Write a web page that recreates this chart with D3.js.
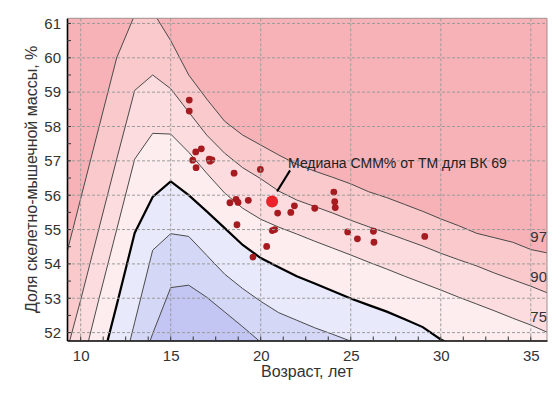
<!DOCTYPE html>
<html><head><meta charset="utf-8">
<script src="https://cdn.jsdelivr.net/npm/d3@7"></script>
<style>
html,body{margin:0;padding:0;background:#fff;}
text{font-family:"Liberation Sans",Arial,sans-serif;}
</style></head>
<body>
<svg id="chart" width="560" height="394"></svg>
<script>
// ---- data ----
const ages = [9,10,11,12,13,14,15,16,17,18,19,20,21,22,23,24,25,26,27,28,29,30,31,32,33,34,35,36];
const p97 = [53.85,55.9,57.95,60.0,61.25,61.35,60.5,59.5,58.8,58.15,57.75,57.46,57.17,56.9,56.7,56.52,56.33,56.1,55.93,55.73,55.53,55.31,55.11,54.89,54.76,54.63,54.42,54.31];
const p90 = [51.0,52.95,55.0,57.05,59.05,59.5,59.1,58.42,57.75,57.22,56.8,56.48,56.12,55.86,55.67,55.48,55.27,55.08,54.9,54.71,54.52,54.31,54.12,53.94,53.73,53.54,53.35,53.14];
const p75 = [null,50.85,52.95,55.0,57.05,57.8,57.78,57.25,56.64,56.06,55.62,55.3,55.07,54.87,54.66,54.46,54.26,54.05,53.85,53.64,53.44,53.24,53.03,52.83,52.63,52.42,52.22,51.99];
const p50 = [null,null,50.75,52.8,54.9,55.95,56.4,56.0,55.53,55.04,54.55,54.17,53.9,53.64,53.43,53.21,52.99,52.8,52.61,52.39,52.16,51.8,51.55,null,null,null,null,null];
const p25 = [null,null,null,50.2,52.3,54.4,54.88,54.8,54.25,53.7,53.28,52.91,52.58,52.36,52.14,51.95,51.75,51.55,null,null,null,null,null,null,null,null,null,null];
const p10 = [null,null,null,null,50.5,51.97,53.31,53.38,53.03,52.6,52.17,51.72,51.3,null,null,null,null,null,null,null,null,null,null,null,null,null,null,null];

const ptAge = [16.03,16.03,16.39,16.70,16.22,16.41,17.14,17.29,17.18,18.52,19.98,18.29,18.63,18.74,19.31,21.87,20.94,21.67,18.68,20.64,20.78,20.33,19.57,24.06,24.11,24.14,23.0,24.83,25.37,26.26,26.29,29.11];
const ptVal = [58.77,58.45,57.26,57.35,57.02,56.80,57.05,57.03,56.99,56.64,56.75,55.78,55.88,55.79,55.85,55.69,55.48,55.50,55.14,54.97,55.00,54.51,54.20,56.09,55.81,55.64,55.62,54.93,54.73,54.95,54.63,54.80];

const medianAge = 20.63, medianVal = 55.82;
const medianLabel = "Медиана СММ% от ТМ для ВК 69";

const xTicks = [10,15,20,25,30,35];
const yTicks = [52,53,54,55,56,57,58,59,60,61];
const curveLabels = ["97","90","75"];
const xTitle = "Возраст, лет";
const yTitle = "Доля скелетно-мышечной массы, %";

// ---- layout ----
const L = 67, R = 547, T = 18.3, B = 340.5;
const svg = d3.select("#chart");
const x = d3.scaleLinear().domain([9.24, 35.9]).range([L, R]);
const y = d3.scaleLinear().domain([51.77, 61.15]).range([B, T]);

svg.append("defs").append("clipPath").attr("id","clip")
  .append("rect").attr("x",L).attr("y",T).attr("width",R-L).attr("height",B-T);

const plot = svg.append("g").attr("clip-path","url(#clip)");

// band fills (painter's order, each curve filled down to the bottom)
const curves = [p97,p90,p75,p50,p25,p10];
const bandColors = ["#fac9cc","#fcdcde","#fdedee","#e8e9fb","#d5d7f7","#c3c5f3"];
plot.append("rect").attr("x",L).attr("y",T).attr("width",R-L).attr("height",B-T).attr("fill","#f6b2b7");
curves.forEach((c,i)=>{
  const pts = ages.map((a,j)=>[a,c[j]]);
  const area = d3.area().defined(d=>d[1]!=null)
    .x(d=>x(d[0])).y0(B+20).y1(d=>y(d[1]));
  plot.append("path").attr("d",area(pts)).attr("fill",bandColors[i]);
});

// grid
const grid = svg.append("g");
xTicks.forEach(t=>{
  grid.append("line").attr("x1",x(t)).attr("x2",x(t)).attr("y1",T).attr("y2",B)
    .attr("stroke","#9c9c9c").attr("stroke-width",1).attr("stroke-dasharray","3,2");
});
yTicks.forEach(t=>{
  grid.append("line").attr("x1",L).attr("x2",R).attr("y1",y(t)).attr("y2",y(t))
    .attr("stroke","#9c9c9c").attr("stroke-width",1).attr("stroke-dasharray","3,2");
});

// contour lines
curves.forEach((c,i)=>{
  const pts = ages.map((a,j)=>[a,c[j]]);
  const line = d3.line().defined(d=>d[1]!=null).x(d=>x(d[0])).y(d=>y(d[1]));
  plot.append("path").attr("d",line(pts)).attr("fill","none")
    .attr("stroke", i===3 ? "#000" : "#4a4a4a")
    .attr("stroke-width", i===3 ? 2.2 : 1);
});

// points
plot.selectAll("circle.pt").data(ptAge.map((a,i)=>[a,ptVal[i]])).enter()
  .append("circle").attr("class","pt")
  .attr("cx",d=>x(d[0])).attr("cy",d=>y(d[1])).attr("r",3.4)
  .attr("fill","#a51b1f");

// median
const mx = x(medianAge), my = y(medianVal);
svg.append("circle").attr("cx",mx).attr("cy",my).attr("r",6).attr("fill","#e8242a");
svg.append("line").attr("x1",mx+5).attr("y1",my-10).attr("x2",mx+18).attr("y2",my-31)
  .attr("stroke","#000").attr("stroke-width",2);
svg.append("text").attr("x",mx+16).attr("y",my-33).attr("font-size",14).attr("fill","#222")
  .text(medianLabel);

// curve labels on the right
[p97,p90,p75].forEach((c,i)=>{
  svg.append("text").attr("x",R).attr("y",y(c[c.length-1])-11).attr("text-anchor","end")
    .attr("font-size",15).attr("fill","#333").text(curveLabels[i]);
});

// frame
svg.append("line").attr("x1",L).attr("x2",R).attr("y1",T).attr("y2",T).attr("stroke","#a08c8e").attr("stroke-width",1);
svg.append("line").attr("x1",R).attr("x2",R).attr("y1",T).attr("y2",B).attr("stroke","#a08c8e").attr("stroke-width",1);

// axes
const xAxis = d3.axisBottom(x).tickValues(xTicks).tickSize(0).tickPadding(10);
const gx = svg.append("g").attr("transform",`translate(0,${B})`).call(xAxis);
gx.select(".domain").attr("stroke","#000").attr("stroke-width",1.6);
gx.selectAll("text").attr("font-size",15).attr("fill","#333").attr("font-family","Liberation Sans, Arial, sans-serif");
const xMinor = d3.range(10, 35.01, 1.25);
gx.selectAll("line.minor").data(xMinor).enter().append("line").attr("class","minor")
  .attr("x1",d=>x(d)).attr("x2",d=>x(d)).attr("y1",0).attr("y2",-4).attr("stroke","#333");

const yAxis = d3.axisLeft(y).tickValues(yTicks).tickSize(0).tickPadding(6);
const gy = svg.append("g").attr("transform",`translate(${L},0)`).call(yAxis);
gy.select(".domain").attr("stroke","#000").attr("stroke-width",1.6);
gy.selectAll("text").attr("font-size",15).attr("fill","#333").attr("font-family","Liberation Sans, Arial, sans-serif");
const yMinor = d3.range(52, 61.01, 0.5);
gy.selectAll("line.minor").data(yMinor).enter().append("line").attr("class","minor")
  .attr("x1",0).attr("x2",4).attr("y1",d=>y(d)).attr("y2",d=>y(d)).attr("stroke","#333");

// titles
svg.append("text").attr("x",(L+R)/2).attr("y",377).attr("text-anchor","middle")
  .attr("font-size",16).attr("fill","#333").text(xTitle);
svg.append("text").attr("transform",`translate(37,${(T+B)/2}) rotate(-90)`).attr("text-anchor","middle")
  .attr("font-size",16).attr("fill","#333").text(yTitle);
</script>
</body></html>
